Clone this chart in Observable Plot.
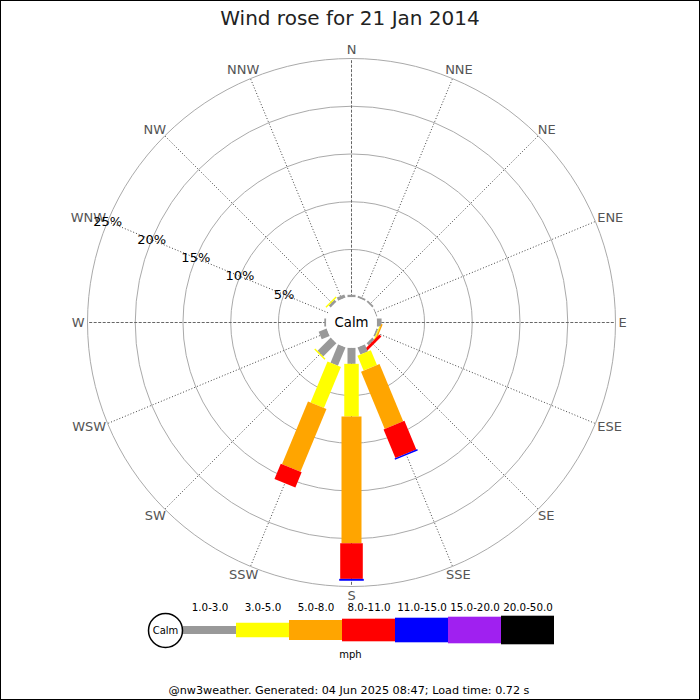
<!DOCTYPE html>
<html>
<head>
<meta charset="utf-8">
<script src="https://cdn.jsdelivr.net/npm/d3@7"></script>
<script src="https://cdn.jsdelivr.net/npm/@observablehq/plot@0.6"></script>
<style>
  html, body { margin: 0; padding: 0; background: #fff; }
  #wrap { position: relative; width: 700px; height: 700px; overflow: hidden; font-family: "DejaVu Sans", sans-serif; }
  #wrap > * { position: absolute; left: 0; }
  #title { top: 8px; width: 700px; height: 20px; line-height: 20px; text-align: center; font-size: 20px; color: #222; }
  #rose { top: 0; }
  #legend { top: 600px; }
  #footer { top: 684px; width: 698px; height: 14px; line-height: 14px; text-align: center; font-size: 11.2px; color: #000; }
  #frame { top: 0; width: 700px; height: 700px; box-sizing: border-box; border: 1px solid #000; pointer-events: none; }
</style>
</head>
<body>
<div id="wrap">
  <div id="rose"></div>
  <div id="legend"></div>
  <div id="title">Wind rose for 21 Jan 2014</div>
  <div id="footer">@nw3weather. Generated: 04 Jun 2025 08:47; Load time: 0.72 s</div>
  <div id="frame"></div>
</div>
<script>
// ---- data ----
const directions = ["N","NNE","NE","ENE","E","ESE","SE","SSE","S","SSW","SW","WSW","W","WNW","NW","NNW"];
const speedBins = ["1.0-3.0","3.0-5.0","5.0-8.0","8.0-11.0","11.0-15.0","15.0-20.0","20.0-50.0"];
const speedUnit = "mph";
// percent of time, per direction (order of `directions`)
const pct1to3   = [0.25,0.20,0.20,0.10,0.50,0.20,0.30,0.81,1.68,2.08,1.96,0.90,0.20,0.00,0.30,0.35];
const pct3to5   = [0,0,0,0,0,0.10,0,1.68,5.52,4.65,0.15,0,0,0,0.15,0];
const pct5to8   = [0,0,0,0,0,0.15,0,6.49,13.27,7.12,0,0,0,0,0,0];
const pct8to11  = [0,0,0,0,0,0,0.30,3.25,3.73,1.72,0,0,0,0,0,0];
const pct11to15 = [0,0,0,0,0,0,0,0.15,0.20,0,0,0,0,0,0,0];
const pct15to20 = [0,0,0,0,0,0,0,0,0,0,0,0,0,0,0,0];
const pct20to50 = [0,0,0,0,0,0,0,0,0,0,0,0,0,0,0,0];
const ringPct = [5,10,15,20,25];
const ringLabels = ["5%","10%","15%","20%","25%"];
const calmLabel = "Calm";

// ---- styles ----
const binColors = ["#999999","#ffff00","#ffa500","#ff0000","#0000ff","#a020f0","#000000"];
const binWidths = [8, 14.5, 20, 22.6, 24.6, 26.6, 28.6];
const dirFontSize = 13;

// ---- build ----
const bins = [pct1to3, pct3to5, pct5to8, pct8to11, pct11to15, pct15to20, pct20to50];
const rad = d3.scaleLinear().domain([0, 25]).range([25.3, 264]);
const toR = deg => deg * Math.PI / 180;
const ctx = document.createElement("canvas").getContext("2d");
ctx.font = `${dirFontSize}px "DejaVu Sans"`;
const dirData = directions.map((name, i) => ({name, angle: i * 22.5, cardinal: i % 4 === 0, w: ctx.measureText(name).width}));
const segments = [];
directions.forEach((name, i) => {
  let cum = 0;
  bins.forEach((arr, j) => {
    const v = arr[i];
    if (v > 0) segments.push({dir: name, angle: i * 22.5, bin: speedBins[j], bi: j, from: cum, to: cum + v});
    cum += v;
  });
});
const px = (r, a) => r * Math.sin(toR(a));
const py = (r, a) => r * Math.cos(toR(a));
const labelAngle = 292.5;
const labelR = rad(25) + 3;
const labelH = dirFontSize * 0.92;

const rose = Plot.plot({
  width: 700, height: 700, margin: 0,
  x: {domain: [-351, 349], range: [0, 700], axis: null},
  y: {domain: [-378, 322], range: [700, 0], axis: null},
  color: {domain: speedBins, range: binColors},
  style: {background: "transparent", fontFamily: "DejaVu Sans"},
  marks: [
    ...ringPct.map(p => Plot.dot([p], {x: 0, y: 0, r: rad(p), stroke: "#aaaaaa", strokeWidth: 1, fill: "none"})),
    Plot.link(dirData.filter(d => !d.cardinal), {
      x1: d => px(rad(0), d.angle), y1: d => py(rad(0), d.angle),
      x2: d => px(rad(25), d.angle), y2: d => py(rad(25), d.angle),
      stroke: "#444", strokeWidth: 1, strokeDasharray: "1,2"
    }),
    Plot.link(dirData.filter(d => d.cardinal), {
      x1: d => px(rad(0), d.angle), y1: d => py(rad(0), d.angle),
      x2: d => px(rad(25), d.angle), y2: d => py(rad(25), d.angle),
      stroke: "#666", strokeWidth: 1, strokeDasharray: "3,1.5"
    }),
    Plot.link(segments, {
      x1: d => px(rad(d.from), d.angle), y1: d => py(rad(d.from), d.angle),
      x2: d => px(rad(d.to), d.angle), y2: d => py(rad(d.to), d.angle),
      stroke: "bin", strokeWidth: d => binWidths[d.bi], strokeLinecap: "butt"
    }),
    Plot.dot([0], {x: 0, y: 0, r: rad(0), fill: "white", stroke: "none"}),
    Plot.text([calmLabel], {x: 0, y: 0, text: d => d, fontSize: 13.3, fill: "#000"}),
    Plot.text(dirData, {
      x: d => px(labelR, d.angle) + Math.sin(toR(d.angle)) * d.w / 2,
      y: d => py(labelR, d.angle) + Math.cos(toR(d.angle)) * labelH / 2,
      text: "name", fontSize: dirFontSize, fill: "#555"
    }),
    Plot.text(ringPct, {
      x: p => px(rad(p), labelAngle), y: p => py(rad(p), labelAngle),
      text: (p, i) => ringLabels[i], fontSize: 13, fill: "#000"
    })
  ]
});
document.getElementById("rose").append(rose);

const legend = Plot.plot({
  width: 700, height: 70, margin: 0,
  x: {type: "band", domain: speedBins, range: [180, 556], padding: 0, axis: null},
  y: {domain: [-30, 40], range: [0, 70], axis: null},
  color: {domain: speedBins, range: binColors},
  style: {background: "transparent", fontFamily: "DejaVu Sans"},
  marks: [
    Plot.barY(speedBins, {x: d => d, y1: (d, i) => -binWidths[i] / 2, y2: (d, i) => binWidths[i] / 2, fill: d => d}),
    Plot.dot([calmLabel], {x: () => speedBins[0], y: 0, dx: -44.5, r: 17, fill: "white", stroke: "#000"}),
    Plot.text([calmLabel], {x: () => speedBins[0], y: 0, dx: -44.5, text: d => d, fontSize: 10, fill: "#000"}),
    Plot.text(speedBins, {x: d => d, y: -22.3, text: d => d, fontSize: 10.3, fill: "#000"}),
    Plot.text([speedUnit], {frameAnchor: "middle", dy: 19, text: d => d, fontSize: 10, fill: "#000"})
  ]
});
document.getElementById("legend").append(legend);
</script>
</body>
</html>
